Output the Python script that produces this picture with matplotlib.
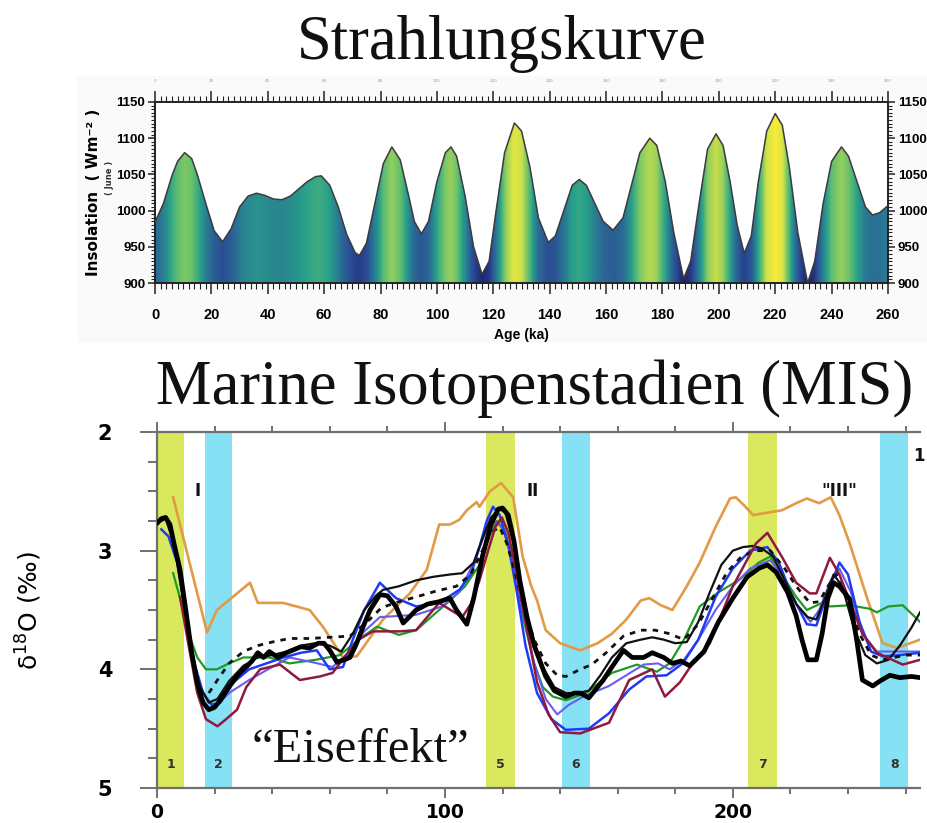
import numpy as np
import matplotlib
matplotlib.use("Agg")
import matplotlib.pyplot as plt
from matplotlib.colors import LinearSegmentedColormap, Normalize
from matplotlib.patches import Polygon, Rectangle
from matplotlib.ticker import MultipleLocator, FixedLocator
from matplotlib import font_manager

# ---------------- insolation curve (June, W m^-2) ----------------
ins_age = [0, 3, 6, 8, 10.5, 13, 15, 18, 21, 24, 27, 30, 33, 36, 39, 42, 45, 48, 51, 54,
           57, 59, 62, 65, 68, 71, 72.5, 75, 78, 81, 84, 87, 90, 92, 94.5, 97, 100, 103,
           105, 107, 110, 113, 116, 118.5, 121, 124, 127.5, 130, 133, 136, 139.5, 142,
           145, 148, 150.5, 153, 156, 159, 162.5, 166, 169, 172, 175.5, 178, 181, 184,
           187.5, 190, 193, 196, 199, 201.5, 204, 206.5, 209, 211.5, 214, 217, 220, 222.5,
           225, 228, 231.5, 234, 237, 240, 243.5, 246, 249, 252, 254.5, 257, 260]
ins_val = [984, 1010, 1048, 1068, 1080, 1072, 1050, 1010, 972, 957, 975, 1005, 1020, 1024,
           1021, 1016, 1015, 1020, 1030, 1040, 1047, 1048, 1035, 1005, 967, 942, 938, 955,
           1010, 1065, 1088, 1070, 1020, 985, 968, 985, 1040, 1080, 1088, 1075, 1020, 950,
           912, 930, 1000, 1080, 1121, 1110, 1060, 990, 956, 965, 1000, 1035, 1043, 1035,
           1010, 985, 973, 990, 1035, 1080, 1100, 1090, 1040, 970, 906, 930, 1010, 1085,
           1106, 1090, 1040, 980, 941, 965, 1040, 1110, 1134, 1118, 1060, 970, 900, 930,
           1010, 1068, 1088, 1075, 1040, 1005, 994, 997, 1007]
ins_xticks = list(range(0, 261, 20))
ins_yticks = [900, 950, 1000, 1050, 1100, 1150]

# ---------------- marine isotope records (d18O, permil) ----------------
thick_age = [0, 1.5, 3, 4.5, 6, 8, 10, 12, 14, 16, 18, 20, 22, 25, 28, 31, 33, 35, 37, 39,
             42, 45, 48, 50, 53, 56, 58, 60, 62.5, 65, 67, 69, 71.6, 74, 77.4, 80, 83,
             85.5, 88, 90, 94, 98, 101.7, 104, 107.6, 110, 113, 116, 118.5, 120, 122, 124,
             126, 128.5, 131, 135, 138, 142, 145, 147, 150, 152, 155, 158, 162, 165, 169,
             172, 176, 179, 182, 185, 190, 195, 200, 205, 209, 212, 215, 219, 222, 224,
             226, 229, 231, 233, 235, 237, 240.6, 243, 245, 248.6, 251, 254.5, 258, 262, 265]
thick_val = [2.77, 2.73, 2.72, 2.78, 2.95, 3.16, 3.5, 3.85, 4.12, 4.28, 4.34, 4.32, 4.26,
             4.15, 4.05, 3.98, 3.93, 3.86, 3.9, 3.85, 3.9, 3.86, 3.83, 3.81, 3.82, 3.78,
             3.78, 3.84, 3.94, 3.92, 3.9, 3.8, 3.64, 3.5, 3.37, 3.38, 3.47, 3.61, 3.55,
             3.5, 3.45, 3.43, 3.4, 3.5, 3.62, 3.4, 3.05, 2.78, 2.65, 2.64, 2.7, 2.92, 3.25,
             3.56, 3.8, 4.06, 4.18, 4.23, 4.2, 4.2, 4.24, 4.18, 4.09, 3.98, 3.84, 3.9, 3.9,
             3.86, 3.9, 3.95, 3.93, 3.97, 3.85, 3.6, 3.4, 3.22, 3.15, 3.12, 3.18, 3.35,
             3.55, 3.75, 3.92, 3.92, 3.7, 3.4, 3.27, 3.3, 3.41, 3.75, 4.09, 4.14, 4.1,
             4.05, 4.07, 4.06, 4.07]

thin_age = [0, 3, 6, 9, 12, 15, 18, 21, 25, 30, 35, 40, 45, 50, 55, 60, 64, 68, 72, 76,
            78.5, 84, 90, 96, 102, 106, 110, 113, 116, 119, 121, 124, 127, 130, 134, 138,
            142, 146, 150, 154, 158, 163, 168, 172, 176, 180, 184, 188, 192, 196, 200,
            203.5, 207, 210, 214, 218, 222, 226, 229, 232, 235, 238, 242, 246, 250, 254,
            258, 262, 265]
thin_val = [2.77, 2.73, 2.95, 3.4, 3.85, 4.15, 4.28, 4.25, 4.1, 3.97, 3.9, 3.88, 3.85,
            3.8, 3.78, 3.8, 3.85, 3.7, 3.5, 3.38, 3.33, 3.3, 3.25, 3.22, 3.2, 3.19, 3.1,
            2.9, 2.72, 2.65, 2.68, 2.95, 3.35, 3.7, 3.98, 4.15, 4.2, 4.2, 4.18, 4.05, 3.9,
            3.78, 3.75, 3.73, 3.75, 3.78, 3.77, 3.6, 3.35, 3.12, 3.0, 2.97, 2.96, 2.98,
            3.05, 3.25, 3.45, 3.56, 3.58, 3.4, 3.2, 3.3, 3.65, 3.88, 3.95, 3.92, 3.8, 3.65,
            3.52]

dash_age = [18, 21, 25, 30, 35, 40, 46, 53, 60, 67, 73, 78, 84, 90, 97, 104, 109, 113,
            116, 119, 121.5, 124, 127, 131, 135, 139, 142, 147, 151, 156, 162, 168, 173,
            178, 183, 188, 193, 198, 203, 208, 213, 218, 222, 226.7, 230, 233, 236, 240,
            244, 248, 252, 256, 260, 265]
dash_val = [4.2, 4.09, 3.95, 3.85, 3.8, 3.77, 3.74, 3.74, 3.73, 3.72, 3.6, 3.48, 3.43,
            3.39, 3.34, 3.3, 3.2, 3.0, 2.85, 2.8, 2.94, 3.15, 3.45, 3.75, 3.95, 4.05, 4.06,
            4.0, 3.96, 3.86, 3.72, 3.67, 3.67, 3.7, 3.75, 3.62, 3.4, 3.18, 3.05, 3.0, 3.0,
            3.15, 3.3, 3.44, 3.43, 3.3, 3.2, 3.4, 3.7, 3.88, 3.92, 3.9, 3.88, 3.88]

blue_age = [1.5, 4, 7, 10, 13, 16, 19, 22, 26, 32, 38, 44, 50, 55.5, 60, 64.6, 68, 72,
            77.4, 83, 90, 98, 105, 109, 112, 114.5, 116.7, 119, 122, 125, 128, 132, 137,
            142, 150, 157, 164, 170, 177, 182.6, 188, 194, 200, 206, 212, 216, 220, 225.7,
            229, 233, 237, 240, 244, 248, 252, 258, 265]
blue_val = [2.82, 2.88, 3.1, 3.55, 3.95, 4.2, 4.3, 4.28, 4.12, 4.0, 3.95, 3.9, 3.86, 3.84,
            4.0, 3.98, 3.75, 3.5, 3.27, 3.4, 3.47, 3.44, 3.33, 3.2, 2.97, 2.75, 2.63, 2.7,
            2.95, 3.35, 3.8, 4.2, 4.42, 4.51, 4.5, 4.37, 4.17, 4.06, 4.05, 3.95, 3.75,
            3.39, 3.15, 3.0, 2.97, 3.1, 3.35, 3.62, 3.63, 3.35, 3.1, 3.2, 3.6, 3.85, 3.89,
            3.88, 3.86]

violet_age = [9, 12, 15, 18, 21, 25, 32, 40, 46, 54, 61, 67, 72, 77.4, 84, 90, 99, 105,
              110, 114, 117, 120, 123, 127, 131, 135, 139, 143, 148, 157, 163, 169, 174,
              178, 183, 188, 194, 200, 206, 213, 217, 222, 227, 230, 234, 237, 241, 245,
              250, 256, 265]
violet_val = [3.5, 3.85, 4.15, 4.28, 4.3, 4.2, 4.09, 3.98, 3.9, 3.94, 3.98, 3.85, 3.68,
              3.56, 3.55, 3.54, 3.47, 3.35, 3.1, 2.85, 2.75, 2.8, 3.05, 3.5, 3.95, 4.25,
              4.38, 4.3, 4.23, 4.14, 4.05, 3.96, 3.95, 4.0, 3.92, 3.75, 3.5, 3.3, 3.15,
              3.08, 3.2, 3.45, 3.6, 3.5, 3.25, 3.15, 3.35, 3.7, 3.85, 3.85, 3.85]

green_age = [5.6, 8, 11, 14, 17, 20.8, 25, 30, 39, 46, 55, 63.5, 70, 76.4, 84, 90, 98,
             101.7, 107, 112, 115, 118, 121, 124, 127, 131, 134, 137.5, 142, 149, 158,
             166.7, 173.6, 178, 183, 188.5, 195, 202, 209, 213, 217, 222, 225.7, 231,
             233.7, 240.6, 247.6, 250, 254, 259, 265]
green_val = [3.19, 3.4, 3.7, 3.9, 4.0, 4.0, 3.95, 3.9, 3.9, 3.95, 3.92, 3.88, 3.75, 3.64,
             3.71, 3.67, 3.5, 3.42, 3.3, 3.12, 2.9, 2.75, 2.85, 3.15, 3.55, 3.95, 4.15,
             4.23, 4.26, 4.2, 4.03, 3.96, 4.02, 3.95, 3.75, 3.47, 3.35, 3.25, 3.1, 3.05,
             3.2, 3.39, 3.5, 3.44, 3.47, 3.46, 3.49, 3.52, 3.47, 3.46, 3.6]

red_age = [8, 11, 14, 17, 21, 24, 27.8, 31, 35.8, 42.7, 49.6, 56.6, 61, 65, 70, 75, 84.4,
           90, 98, 106, 109, 112, 115, 117.5, 119.8, 122, 125, 128, 132, 136, 140, 147,
           157, 164, 172, 176.4, 181.6, 186, 192, 200, 208, 212, 217, 222, 226.7, 229,
           233.7, 237, 241, 245, 250, 259, 265]
red_val = [3.39, 3.8, 4.2, 4.42, 4.48, 4.42, 4.34, 4.15, 4.0, 3.96, 4.09, 4.06, 4.03, 3.9,
           3.75, 3.68, 3.68, 3.67, 3.44, 3.56, 3.45, 3.25, 3.0, 2.8, 2.72, 2.85, 3.2, 3.6,
           4.11, 4.38, 4.53, 4.54, 4.45, 4.09, 4.0, 4.23, 4.11, 3.95, 3.78, 3.3, 2.94,
           2.85, 3.05, 3.27, 3.36, 3.36, 3.06, 3.2, 3.45, 3.7, 3.86, 3.96, 3.92]

orange_age = [5.6, 17.4, 20.8, 32.3, 35, 43.8, 53, 57.6, 64.6, 69.4, 78.5, 87.8, 93.7, 98,
              101.7, 105, 107.6, 111, 112, 115.6, 119.5, 123.7, 127, 130, 132, 135, 140,
              147, 153, 158, 163, 168, 171, 175, 179, 184, 188.5, 194, 199, 201, 204, 207,
              212, 217, 222, 225.7, 230, 234, 237, 240.6, 246.5, 252, 257, 265]
orange_val = [2.55, 3.69, 3.5, 3.27, 3.44, 3.44, 3.5, 3.64, 3.9, 3.89, 3.58, 3.36, 3.16,
              2.78, 2.78, 2.74, 2.66, 2.59, 2.63, 2.5, 2.43, 2.55, 3.05, 3.3, 3.42, 3.67,
              3.78, 3.84, 3.78, 3.7, 3.58, 3.42, 3.4, 3.46, 3.5, 3.3, 3.1, 2.8, 2.56, 2.55,
              2.62, 2.7, 2.68, 2.66, 2.6, 2.56, 2.6, 2.55, 2.7, 2.94, 3.39, 3.78, 3.82, 3.75]

# warm (odd) and cold (even) stages: start, end, label
warm_bands = [(0, 9.4, "1"), (114.2, 124.3, "5"), (205.2, 215.3, "7")]
cold_bands = [(16.7, 26.0, "2"), (140.6, 150.3, "6"), (251.0, 261.0, "8")]
cycle_marks = [(14, 2.5, "I"), (130.5, 2.5, "II"), (237, 2.5, '"III"'), (264.5, 2.2, "1")]
mis_xticks = [0, 100, 200]
mis_yticks = [2, 3, 4, 5]

# narrow bold face for the insolation axis labels, if available
_names = {f.name for f in font_manager.fontManager.ttflist}
narrow = "DejaVu Sans Condensed" if "DejaVu Sans Condensed" in _names else "Liberation Sans"

W, H = 928, 823
fig = plt.figure(figsize=(W / 100, H / 100), dpi=100)
fig.patch.set_facecolor("white")

# pale backdrop behind the insolation figure
fig.patches.append(Rectangle((77 / W, 1 - 343 / H), (W - 77) / W, (343 - 76) / H,
                            transform=fig.transFigure, facecolor="#fafafa",
                            edgecolor="none", zorder=-5))

# ================= upper panel: insolation =================
ax1 = fig.add_axes([155 / W, 1 - 283 / H, 733 / W, 181 / H])
ax1.set_facecolor("white")
ax1.set_xlim(0, 260)
ax1.set_ylim(900, 1150)

cmap = LinearSegmentedColormap.from_list(
    "ins", [(0.0, "#1b1f6e"), (0.22, "#2a4b94"), (0.42, "#2a7494"), (0.58, "#27a08a"),
            (0.74, "#6cc26c"), (0.88, "#c8df4b"), (1.0, "#f8ec3a")])
xs = np.linspace(0, 260, 1400)
col = cmap(Normalize(902, 1134)(np.interp(xs, ins_age, ins_val)))[None, :, :3]
im = ax1.imshow(col, extent=(0, 260, 900, 1150), aspect="auto", origin="lower",
                interpolation="bilinear", zorder=1)
outline = np.column_stack([[0] + ins_age + [260], [900] + ins_val + [900]])
clip = Polygon(outline, closed=True, transform=ax1.transData, facecolor="none",
               edgecolor="none")
ax1.add_patch(clip)
im.set_clip_path(clip)
ax1.plot(ins_age, ins_val, color="#3c3c3c", lw=1.1, zorder=3)

for s in ax1.spines.values():
    s.set_linewidth(1.4)
    s.set_color("#222222")
ax1.xaxis.set_major_locator(FixedLocator(ins_xticks))
ax1.xaxis.set_minor_locator(MultipleLocator(2))
ax1.yaxis.set_major_locator(FixedLocator(ins_yticks))
ax1.yaxis.set_minor_locator(MultipleLocator(5))
ax1.tick_params(which="both", direction="out", top=True, right=True, labelright=True,
                color="#222222")
ax1.tick_params(axis="x", which="major", length=8, width=1.1, labelsize=10.5, pad=10)
ax1.tick_params(axis="x", which="minor", length=4, width=0.8)
ax1.tick_params(axis="y", which="major", length=5, width=1.1, labelsize=9.5, pad=2)
ax1.tick_params(axis="y", which="minor", length=3, width=0.8)
for lab in ax1.get_xticklabels() + ax1.get_yticklabels():
    lab.set_fontweight("bold")
    lab.set_family(narrow)
ax1.set_xlabel("Age (ka)", fontsize=10, fontweight="bold", family="Liberation Sans",
               labelpad=4)
ax1.set_ylabel("Insolation  ( Wm\u207b\u00b2 )", fontsize=11, fontweight="bold",
               family="DejaVu Sans")
ax1.yaxis.set_label_coords(-0.074, 0.5)
fig.text(110 / W, 1 - 178 / H, "( June )", rotation=90, fontsize=6, fontweight="bold",
         ha="center", va="center", color="#333333")

top = ax1.secondary_xaxis("top")
top.set_xticks(ins_xticks)
top.tick_params(length=0, labelsize=3, labelcolor="#9a9a9a", pad=14)
top.spines["top"].set_visible(False)

# ================= lower panel: marine isotope stages =================
ax2 = fig.add_axes([157 / W, 1 - 788 / H, 763 / W, 356 / H])
ax2.set_xlim(0, 265)
ax2.set_ylim(5, 2)

for a, b, lab in warm_bands:
    ax2.axvspan(a, b, color="#d9e85c", lw=0, zorder=0)
    ax2.text((a + b) / 2, 4.8, lab, ha="center", va="center", fontsize=9,
             fontweight="bold", color="#333333", zorder=5)
for a, b, lab in cold_bands:
    ax2.axvspan(a, b, color="#86e1f4", lw=0, zorder=0)
    ax2.text((a + b) / 2, 4.8, lab, ha="center", va="center", fontsize=9,
             fontweight="bold", color="#333333", zorder=5)

ax2.plot(orange_age, orange_val, color="#e39a45", lw=1.9, zorder=2)
ax2.plot(green_age, green_val, color="#1f9a22", lw=1.6, zorder=2)
ax2.plot(violet_age, violet_val, color="#6a5cf0", lw=1.5, zorder=2)
ax2.plot(blue_age, blue_val, color="#1f3cf5", lw=1.8, zorder=3)
ax2.plot(dash_age, dash_val, color="#111111", lw=2.0, ls=(0, (2.0, 2.2)), zorder=3)
ax2.plot(thin_age, thin_val, color="#111111", lw=1.6, zorder=3)
ax2.plot(red_age, red_val, color="#8e1a3e", lw=1.8, zorder=3)
ax2.plot(thick_age, thick_val, color="#000000", lw=3.4, zorder=4,
         solid_joinstyle="round", solid_capstyle="round")

for x, y, t in cycle_marks:
    ax2.text(x, y, t, ha="center", va="center", fontsize=12, fontweight="bold",
             color="#111111", zorder=6)

ax2.text(70.8, 4.78, "\u201cEiseffekt\u201d", ha="center", va="baseline",
         fontsize=35, family="Liberation Serif", color="#111111", zorder=6)

ax2.spines["right"].set_visible(False)
for k in ("left", "top", "bottom"):
    ax2.spines[k].set_color("#707070")
    ax2.spines[k].set_linewidth(1.6)
ax2.xaxis.set_major_locator(FixedLocator(mis_xticks))
ax2.xaxis.set_minor_locator(MultipleLocator(20))
ax2.yaxis.set_major_locator(FixedLocator(mis_yticks))
ax2.yaxis.set_minor_locator(MultipleLocator(0.25))
ax2.tick_params(which="both", direction="out", top=True, color="#707070", width=1.4)
ax2.tick_params(axis="y", which="major", length=12.2, pad=20, labelsize=15)
ax2.tick_params(axis="y", which="minor", length=6.5)
ax2.tick_params(axis="x", which="major", length=7, pad=4, labelsize=13.5)
ax2.tick_params(axis="x", which="minor", length=4.3)
for lab in ax2.get_xticklabels() + ax2.get_yticklabels():
    lab.set_fontweight("bold")
    lab.set_family("DejaVu Sans")
ax2.set_ylabel("\u03b4$^{18}$O (\u2030)", fontsize=18, family="DejaVu Sans")
ax2.yaxis.set_label_coords(-0.148, 0.5)

# ================= headings =================
fig.text(502 / W, 1 - 59 / H, "Strahlungskurve", ha="center", va="baseline",
         fontsize=45, family="Liberation Serif", color="#111111")
fig.text(535 / W, 1 - 404 / H, "Marine Isotopenstadien (MIS)", ha="center",
         va="baseline", fontsize=45, family="Liberation Serif", color="#111111")

fig.savefig("out.png", dpi=100, facecolor="white")
